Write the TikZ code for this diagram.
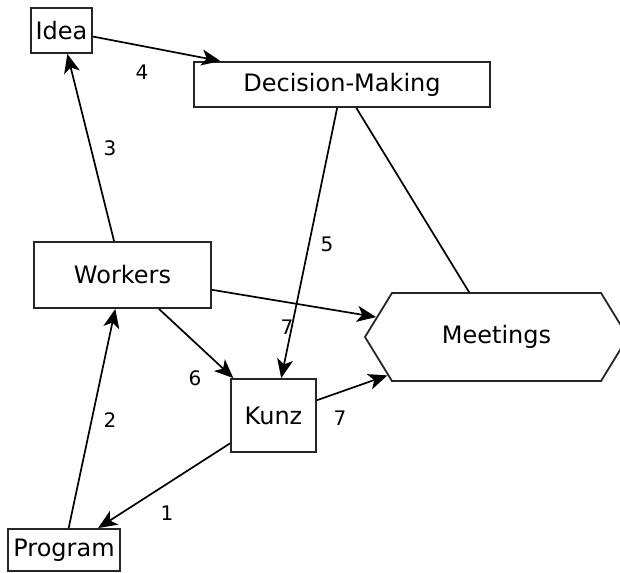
\documentclass[tikz,border=0pt]{standalone}
\usepackage{fontspec}
\setmainfont{DejaVu Sans}
\usetikzlibrary{arrows.meta,shapes.symbols}
\tikzset{
  box/.style={draw=black!85, line width=1.8pt, inner sep=0pt, font=\fontsize{24}{28}\selectfont},
  arr/.style={line width=1.7pt, -{Stealth[length=19pt,width=16pt,inset=5pt]}},
  plain/.style={line width=1.7pt},
  lbl/.style={font=\fontsize{20}{24}\selectfont, inner sep=0pt}
}
\begin{document}
\begin{tikzpicture}[x=1pt,y=-1pt]
\useasboundingbox (0,0) rectangle (620,572);
\node[box, minimum width=61pt, minimum height=45pt] (idea) at (61.5,30.5) {Idea};
\node[box, minimum width=296pt, minimum height=45pt] (dm) at (342,84.5) {Decision-Making};
\node[box, minimum width=177pt, minimum height=66pt] (workers) at (122.5,275) {Workers};
\node[box, minimum width=85pt, minimum height=73pt] (kunz) at (273.5,415.5) {Kunz};
\node[box, minimum width=112pt, minimum height=42pt] (program) at (64,550) {Program};
\node[box, signal, signal to=west and east, signal pointer angle=117,
      minimum width=263pt, minimum height=88pt] (meetings) at (496.5,337) {Meetings};
\draw[arr] (idea) -- (dm);
\draw[arr] (workers) -- (idea);
\draw[arr] (dm) -- (kunz);
\draw[plain] (dm) -- (meetings);
\draw[arr] (workers) -- (kunz);
\draw[arr] (workers) -- (meetings);
\draw[arr] (kunz) -- (meetings);
\draw[arr] (kunz) -- (program);
\draw[arr] (program) -- (workers);
\node[lbl] (l4) at (142,72) {4};
\node[lbl] (l3) at (110,148) {3};
\node[lbl] (l5) at (327,244) {5};
\node[lbl] (l7a) at (287,327) {7};
\node[lbl] (l6) at (195,378) {6};
\node[lbl] (l7b) at (340,418) {7};
\node[lbl] (l2) at (110,420) {2};
\node[lbl] (l1) at (167,513) {1};
\end{tikzpicture}
\end{document}
